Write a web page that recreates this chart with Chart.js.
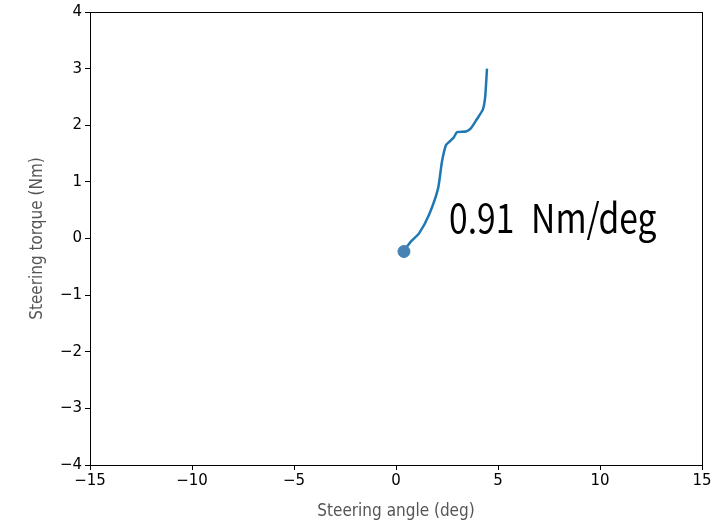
<!DOCTYPE html>
<html>
<head>
<meta charset="utf-8">
<script src="https://cdn.jsdelivr.net/npm/chart.js@4.4.1/dist/chart.umd.min.js"></script>
<style>
  html, body { margin: 0; padding: 0; background: #fff; }
  #wrap { width: 726px; height: 520px; }
</style>
</head>
<body>
<div id="wrap"><canvas id="grafico" width="726" height="520"></canvas></div>
<script>
// steering angle (deg) vs steering torque (Nm)
var angoli = [0.54, 0.74, 1.13, 1.62, 2.06, 2.25, 2.45, 2.65, 2.84, 2.99, 3.43, 3.68, 3.97, 4.26, 4.36, 4.41, 4.46];
var coppie = [-0.14, -0.05, 0.09, 0.42, 0.88, 1.35, 1.65, 1.72, 1.79, 1.88, 1.89, 1.95, 2.11, 2.28, 2.46, 2.70, 3.0];
var puntoIniziale = [0.39, -0.23];
var xTicks = [-15, -10, -5, 0, 5, 10, 15];
var yTicks = [-4, -3, -2, -1, 0, 1, 2, 3, 4];
var etichetta = '0.91\u2002Nm/deg';
var etichettaPos = [2.6, 0.09];

var punti = [];
for (var i = 0; i < angoli.length; i++) {
    punti.push({ x: angoli[i], y: coppie[i] });
}

function meno(v) {
    return String(v).replace('-', '\u2212');
}

// frame round the plot area + the slope text
var cornice = {
    id: 'cornice',
    afterDatasetsDraw: function (chart) {
        var ctx = chart.ctx;
        var a = chart.chartArea;
        ctx.save();
        ctx.strokeStyle = '#000';
        ctx.lineWidth = 1;
        ctx.strokeRect(a.left + 0.5, a.top + 0.5, a.right - a.left, a.bottom - a.top);
        var px = chart.scales.x.getPixelForValue(etichettaPos[0]);
        var py = chart.scales.y.getPixelForValue(etichettaPos[1]);
        ctx.translate(px, py);
        ctx.scale(0.84, 1);
        ctx.fillStyle = '#000';
        ctx.font = '400 40px "Noto Sans CJK JP"';
        ctx.textBaseline = 'alphabetic';
        ctx.fillText(etichetta, 0, 0);
        ctx.restore();
    }
};

var ctx = document.getElementById('grafico');
var chart = new Chart(ctx, {
    type: 'scatter',
    data: {
        datasets: [{
            data: punti,
            showLine: true,
            borderColor: '#1f77b4',
            borderWidth: 2.5,
            pointRadius: 0,
            tension: 0.2
        }, {
            data: [{ x: puntoIniziale[0], y: puntoIniziale[1] }],
            backgroundColor: '#4682b4',
            borderColor: '#4682b4',
            pointRadius: 6
        }]
    },
    options: {
        responsive: false,
        animation: false,
        layout: { padding: { left: 0, right: 24, top: 9, bottom: 0 } },
        plugins: { legend: { display: false }, tooltip: { enabled: false } },
        scales: {
            x: {
                min: -15, max: 15,
                afterBuildTicks: function (s) { s.ticks = xTicks.map(function (v) { return { value: v }; }); },
                afterFit: function (s) { s.height = 55; },
                grid: { drawOnChartArea: false, tickLength: 5, color: '#000' },
                border: { color: '#000' },
                ticks: { color: '#000', font: { family: 'DejaVu Sans', size: 15 }, padding: 2, maxRotation: 0, callback: function (v) { return meno(v); } },
                title: { display: true, text: 'Steering angle (deg)', color: '#555', font: { family: 'DejaVu Sans Condensed', size: 17 }, padding: { top: 1, bottom: -2 } }
            },
            y: {
                min: -4, max: 4,
                afterBuildTicks: function (s) { s.ticks = yTicks.map(function (v) { return { value: v }; }); },
                afterFit: function (s) { s.width = 90; },
                grid: { drawOnChartArea: false, tickLength: 5, color: '#000' },
                border: { color: '#000' },
                ticks: { color: '#000', font: { family: 'DejaVu Sans', size: 15 }, padding: 3, callback: function (v) { return meno(v); } },
                title: { display: true, text: 'Steering torque (Nm)', color: '#555', font: { family: 'DejaVu Sans Condensed', size: 17 }, padding: { top: 27, bottom: 4 } }
            }
        }
    },
    plugins: [cornice]
});
</script>
</body>
</html>
